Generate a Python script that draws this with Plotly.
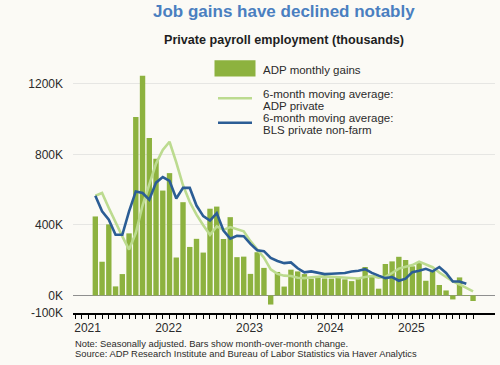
import plotly.graph_objects as go

# ---------------- data ----------------
months = [f"{y}-{m:02d}" for y in range(2021, 2026) for m in range(1, 13)][:57]  # Jan 2021 .. Sep 2025

adp_monthly = [448, 191, 403, 51, 121, 352, 1012, 1247, 893, 775, 595, 694,
               215, 529, 275, 321, 243, 492, 504, 320, 444, 217, 220, 122,
               245, 156, -52, 133, 50, 146, 136, 121, 95, 108, 96, 95,
               104, 91, 81, 95, 161, 115, 38, 178, 193, 219, 201, 165,
               184, 83, 140, 59, 28, -23, 102, -3, -32]

adp_ma6 = [566, 581, 496, 411, 335, 260, 354, 510, 632, 748, 825, 872,
           755, 625, 530, 458, 398, 344, 392, 372, 388, 376, 364, 308,
           258, 214, 148, 122, 112, 110, 100, 98, 103, 106, 108, 106,
           103, 99, 97, 96, 104, 110, 100, 105, 127, 152, 163, 172,
           192, 176, 160, 130, 102, 79, 62, 44, 23]

bls_ma6 = [566, 477, 430, 344, 344, 477, 590, 581, 543, 640, 672, 650,
           550, 610, 610, 510, 450, 425, 467, 368, 322, 338, 336, 292,
           256, 251, 213, 195, 183, 187, 154, 131, 136, 127, 121, 123,
           123, 127, 136, 140, 149, 128, 112, 98, 104, 83, 95, 132,
           140, 151, 136, 161, 127, 79, 79, 66]

year_labels = ["2021", "2022", "2023", "2024", "2025"]
y_tick_vals = [-100, 0, 400, 800, 1200]
y_tick_text = ["-100K", "0K", "400K", "800K", "1200K"]

# ---------------- styling ----------------
BG = "#fbfaf5"
BAR = "#8db23f"
LIGHT = "#bcdb8f"
BLUE = "#2b5d95"
TITLE_BLUE = "#4a7fc0"
TXT = "#2b2b2b"
FONT = "Liberation Sans, Arial, sans-serif"

W, H = 500, 365
L, R, T, B = 73, 5, 60, 52
PW, PH = W - L - R, H - T - B

x_idx = list(range(len(months)))
year_pos = [months.index(f"{y}-01") - 1.15 for y in year_labels]

def px_x(px):
    return (px - L) / PW

def px_y(py):
    return (H - B - py) / PH

fig = go.Figure()
fig.add_trace(go.Bar(x=x_idx, y=adp_monthly, marker=dict(color=BAR, line=dict(width=0)),
                     width=0.8, showlegend=False, hoverinfo="skip"))
fig.add_trace(go.Scatter(x=x_idx[:len(adp_ma6)], y=adp_ma6, mode="lines",
                         line=dict(color=LIGHT, width=2.6), showlegend=False))
fig.add_trace(go.Scatter(x=x_idx[:len(bls_ma6)], y=bls_ma6, mode="lines",
                         line=dict(color=BLUE, width=2.6), showlegend=False))

x0 = -3.31
fig.update_xaxes(
    range=[x0, x0 + PW / 6.745],
    tickmode="array", tickvals=year_pos, ticktext=year_labels,
    ticks="", ticklen=4, tickwidth=1, tickcolor="#000",
    minor=dict(tickmode="array", tickvals=list(range(-3, 57)), ticks="outside",
               ticklen=4, tickwidth=1, tickcolor="#000", showgrid=False),
    showgrid=False, zeroline=False,
    showline=True, linecolor="#000", linewidth=2,
    tickfont=dict(family=FONT, size=12, color=TXT),
    ticklabelstandoff=3,
)
fig.update_yaxes(
    range=[-100, -100 + PH / 0.17617],
    tickmode="array", tickvals=y_tick_vals, ticktext=y_tick_text,
    ticks="", ticklabelstandoff=9,
    showgrid=True, gridcolor="#e6e6e3", gridwidth=1,
    zeroline=True, zerolinecolor="#8f8f8f", zerolinewidth=1.5,
    showline=False,
    tickfont=dict(family=FONT, size=12, color=TXT),
)

shapes = [
    dict(type="rect", xref="paper", yref="paper",
         x0=px_x(214.5), x1=px_x(255.5), y0=px_y(76.5), y1=px_y(60.2),
         fillcolor=BAR, line=dict(width=0)),
    dict(type="line", xref="paper", yref="paper",
         x0=px_x(218), x1=px_x(252), y0=px_y(98.3), y1=px_y(98.3),
         line=dict(color=LIGHT, width=2.6)),
    dict(type="line", xref="paper", yref="paper",
         x0=px_x(218), x1=px_x(252), y0=px_y(122.7), y1=px_y(122.7),
         line=dict(color=BLUE, width=2.6)),
]

def ann(text, px, py, size, color=TXT, xanchor="left", bold=False):
    if bold:
        text = f"<b>{text}</b>"
    return dict(text=text, xref="paper", yref="paper", x=px_x(px), y=px_y(py),
                xanchor=xanchor, yanchor="middle", showarrow=False,
                font=dict(family=FONT, size=size, color=color))

annotations = [
    ann("Job gains have declined notably", 284, 11.5, 17, TITLE_BLUE, "center", True),
    ann("Private payroll employment (thousands)", 284, 39.5, 12.6, "#1e1e1e", "center", True),
    ann("ADP monthly gains", 261, 69.5, 11.5),
    ann("6-month moving average:", 261, 94, 11.5),
    ann("ADP private", 261, 105.5, 11.5),
    ann("6-month moving average:", 261, 117.5, 11.5),
    ann("BLS private non-farm", 261, 129.5, 11.5),
    ann("Note: Seasonally adjusted. Bars show month-over-month change.", 72.5, 343.5, 9.4),
    ann("Source: ADP Research Institute and Bureau of Labor Statistics via Haver Analytics", 72.5, 353.5, 9.4),
]

fig.update_layout(
    width=W, height=H,
    margin=dict(l=L, r=R, t=T, b=B, pad=0),
    paper_bgcolor=BG, plot_bgcolor=BG,
    bargap=0.2,
    shapes=shapes, annotations=annotations,
    showlegend=False,
)

fig.write_html(
    "out.html",
    config={"displayModeBar": False, "staticPlot": True},
    post_script="document.body.style.margin='0';document.body.style.padding='0';"
                "document.body.style.background='" + BG + "';",
)
